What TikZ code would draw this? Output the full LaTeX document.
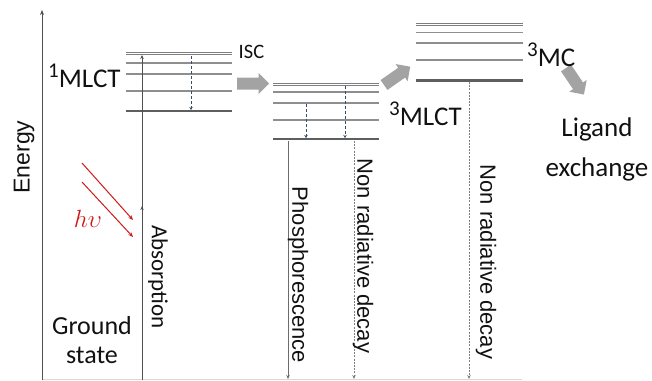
\documentclass[tikz,border=0pt]{standalone}
\usepackage{fontspec}
\setmainfont{Carlito}
\newfontfamily\arialfont{Liberation Sans}
\usetikzlibrary{arrows.meta,decorations.markings}

\definecolor{lvl}{HTML}{8E8E8E}
\definecolor{lvldark}{HTML}{5E5E5E}
\definecolor{relax}{HTML}{3B4B68}
\definecolor{blk}{HTML}{A3A3A3}
\definecolor{photon}{HTML}{D01818}
\definecolor{ink}{HTML}{111111}
\definecolor{axis}{HTML}{505050}

\newcommand{\sups}[1]{\raisebox{10pt}{\fontsize{21}{21}\selectfont #1}}

\tikzset{
  level/.style={draw=lvl, line width=1.1pt},
  leveltop/.style={draw=lvldark!80, line width=0.9pt},
  levelbase/.style={draw=lvldark, line width=2.3pt},
  relaxline/.style={draw=relax, line width=1pt, dash pattern=on 3pt off 2pt,
    -{Stealth[length=3pt,width=3.5pt]}},
  decayline/.style={draw=gray, line width=0.8pt, dash pattern=on 2pt off 1.2pt,
    -{Stealth[length=4pt,width=3.5pt]}},
  emitline/.style={draw=gray!85!black, line width=0.9pt,
    -{Stealth[length=4pt,width=3.5pt]}},
  photonline/.style={draw=photon, line width=1pt, -{Stealth[length=5pt,width=4pt]}},
  % wide grey block arrow, tail at the origin, pointing along +x
  blockarr/.pic={
    \fill[blk] (0,-6) -- (21.5,-6) -- (21.5,-10.5) -- (32,0)
      -- (21.5,10.5) -- (21.5,6) -- (0,6) -- cycle;
  },
  biglabel/.style={text=ink, font=\fontsize{27}{32}\selectfont, inner sep=0pt},
  sidelabel/.style={text=ink, font=\arialfont\fontsize{22}{26}\selectfont, inner sep=0pt, rotate=-90},
}

\begin{document}
\begin{tikzpicture}[x=1pt, y=-1pt]
\useasboundingbox (0,0) rectangle (652,380);

% faint baseline of the ground state
\coordinate (gndL) at (42,379);
\coordinate (gndR) at (522,379);
\draw[gray!30, line width=0.8pt] (gndL) -- (gndR);

% energy axis
\coordinate (axisB) at (42,380);
\coordinate (axisT) at (42,10);
\draw[axis, line width=1pt, -{Stealth[length=5pt,width=4pt]}] (axisB) -- (axisT);
\node[text=ink, font=\arialfont\fontsize{23}{26}\selectfont, rotate=90, inner sep=0pt] (energy) at (24,157) {Energy};

% singlet MLCT manifold
\draw[leveltop] (126,52) -- (232,52);
\draw[leveltop] (126,54.5) -- (232,54.5);
\foreach \y in {63,74,91} \draw[level] (126,\y) -- (232,\y);
\draw[levelbase] (126,111) -- (232,111);

% triplet MLCT manifold
\draw[leveltop] (273,83) -- (379,83);
\draw[leveltop] (273,85.5) -- (379,85.5);
\foreach \y in {92,103,120} \draw[level] (273,\y) -- (379,\y);
\draw[levelbase] (273,139) -- (379,139);

% triplet MC manifold
\draw[leveltop] (416,23) -- (523,23);
\draw[leveltop] (416,25.5) -- (523,25.5);
\foreach \y in {32.5,43,60} \draw[level] (416,\y) -- (523,\y);
\draw[levelbase] (416,80.5) -- (523,80.5);

% absorption
\coordinate (absB) at (142,380);
\coordinate (absT) at (142,55);
\draw[axis, line width=0.9pt, -{Stealth[length=4pt,width=3.5pt]},
  postaction={decorate},
  decoration={markings, mark=at position 0.535 with {\arrow{Stealth[length=4pt,width=3.5pt]}}}]
  (absB) -- (absT);

% vibrational relaxation
\coordinate (vr1a) at (191,56);   \coordinate (vr1b) at (191,110);
\coordinate (vr2a) at (306,104);  \coordinate (vr2b) at (306,138);
\coordinate (vr3a) at (345,86);   \coordinate (vr3b) at (345,138);
\draw[relaxline] (vr1a) -- (vr1b);
\draw[relaxline] (vr2a) -- (vr2b);
\draw[relaxline] (vr3a) -- (vr3b);

% decay channels
\coordinate (phA) at (288,141);  \coordinate (phB) at (288,379);
\coordinate (nrA) at (354,141);  \coordinate (nrB) at (354,379);
\coordinate (mcA) at (469,82);   \coordinate (mcB) at (469,379);
\draw[emitline] (phA) -- (phB);
\draw[decayline] (nrA) -- (nrB);
\draw[decayline] (mcA) -- (mcB);

% incoming light
\coordinate (hv1a) at (82,163); \coordinate (hv1b) at (133,220);
\coordinate (hv2a) at (82,182); \coordinate (hv2b) at (133,237);
\draw[photonline] (hv1a) -- (hv1b);
\draw[photonline] (hv2a) -- (hv2b);
\node[text=photon, font=\fontsize{23}{24}\selectfont, inner sep=0pt] (hv) at (88,219) {$h\upsilon$};

% block arrows: intersystem crossing, MLCT -> MC, MC -> ligand exchange
\pic (isc) at (237,83.5) {blockarr};
\pic[rotate=35] (toMC) at (384,85) {blockarr};
\pic[rotate=-56] (toLig) at (566,68) {blockarr};

% labels
\node[text=ink, font=\fontsize{20.5}{22}\selectfont, inner sep=0pt] (isclbl) at (251.5,52) {ISC};
\node[biglabel, anchor=base west] (s1lbl) at (48,87) {\sups{1}MLCT};
\node[biglabel, anchor=base west] (t1lbl) at (389,125) {\sups{3}MLCT};
\node[biglabel, anchor=base west] (mclbl) at (527,66) {\sups{3}MC};
\node[biglabel, align=center, anchor=base] (lig) at (597,176) {Ligand\\[8pt]exchange};
\node[text=ink, font=\fontsize{26}{29}\selectfont, align=center, inner sep=0pt, anchor=base] (gs) at (92,363) {Ground\\state};
\node[text=ink, font=\fontsize{23}{26}\selectfont, rotate=-90, inner sep=0pt] (abs) at (158,277) {Absorption};
\node[sidelabel] (phos) at (298,275) {Phosphorescence};
\node[sidelabel] (nr1) at (363,256) {Non radiative decay};
\node[sidelabel] (nr2) at (486,262) {Non radiative decay};
\end{tikzpicture}
\end{document}
